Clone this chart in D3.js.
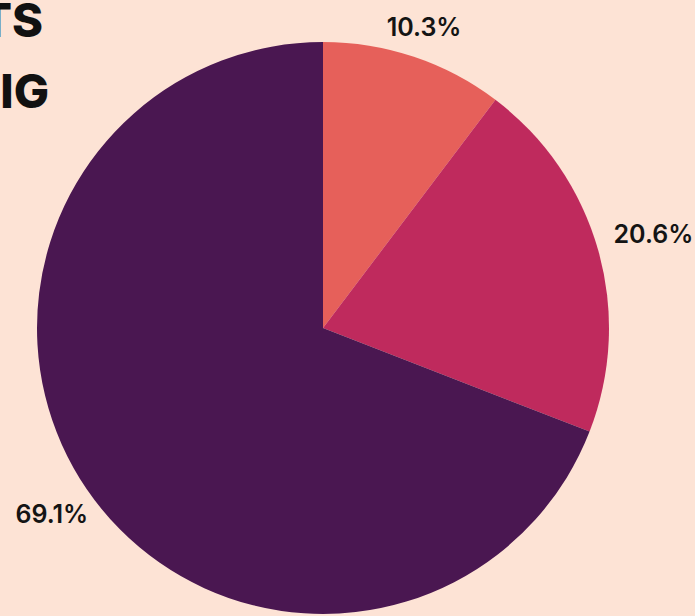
<!DOCTYPE html>
<html>
<head>
<meta charset="utf-8">
<script src="https://cdn.jsdelivr.net/npm/d3@7"></script>
<style>
  html, body { margin: 0; padding: 0; background: #fde3d5; }
  svg { display: block; }
</style>
</head>
<body>
<div id="chart"></div>
<script>
const width = 695,
    height = 616;

// slice data, clockwise from 12 o'clock
var labels = ["10.3%", "20.6%", "69.1%"];
var values = [10.3, 20.6, 69.1];
var colors = ["#e6605a", "#bf2a5d", "#4a1751"];

// title lines, cropped at the left edge in the original
var titleLines = ["TS", "IG"];

var cx = 323, cy = 328, radius = 286;

var svg = d3.select("#chart")
    .append("svg")
    .attr("width", width)
    .attr("height", height);

svg.append("rect")
    .attr("width", width)
    .attr("height", height)
    .attr("fill", "#fde3d5");

svg.selectAll("text.title")
    .data(titleLines)
    .enter()
    .append("text")
    .attr("class", "title")
    .attr("x", function (d, i) { return i === 0 ? 43 : 49; })
    .attr("y", function (d, i) { return 37 + i * 71; })
    .attr("text-anchor", "end")
    .attr("font-family", "Inter, 'Open Sans', sans-serif")
    .attr("font-weight", 800)
    .attr("font-size", 47)
    .attr("fill", "#111")
    .text(function (d) { return d; });

var pie = d3.pie()
    .sort(null)
    .value(function (d) { return d; });

var arc = d3.arc()
    .innerRadius(0)
    .outerRadius(radius);

var arcs = pie(values);

var g = svg.append("g")
    .attr("transform", "translate(" + cx + "," + cy + ")");

g.selectAll("path")
    .data(arcs)
    .enter()
    .append("path")
    .attr("d", arc)
    .attr("fill", function (d, i) { return colors[i]; });

// labels: keep a fixed gap between the pie centre and the nearest edge of the text box
var gap = 302;
var lbl = g.selectAll("text.lbl")
    .data(arcs)
    .enter()
    .append("text")
    .attr("class", "lbl")
    .attr("text-anchor", "middle")
    .attr("dominant-baseline", "central")
    .attr("font-family", "Inter, 'Open Sans', sans-serif")
    .attr("font-weight", 600)
    .attr("font-size", 25)
    .attr("fill", "#141414")
    .text(function (d, i) { return labels[i]; });

lbl.each(function (d) {
    var bb = this.getBBox();
    var a = (d.startAngle + d.endAngle) / 2;
    var sx = Math.sin(a), sy = -Math.cos(a);
    var hw = bb.width / 2, hh = bb.height / 2;
    var ext = Math.min(Math.abs(sx) > 1e-6 ? hw / Math.abs(sx) : Infinity,
                       Math.abs(sy) > 1e-6 ? hh / Math.abs(sy) : Infinity);
    var r = gap + ext;
    d3.select(this)
        .attr("x", sx * r)
        .attr("y", sy * r);
});
</script>
</body>
</html>
